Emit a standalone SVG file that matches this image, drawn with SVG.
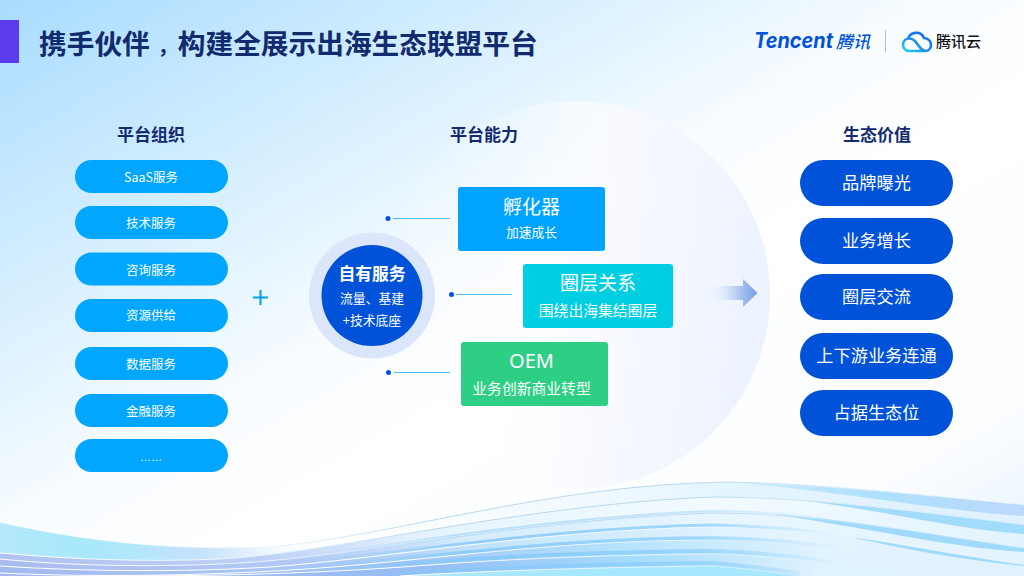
<svg xmlns="http://www.w3.org/2000/svg" xmlns:xlink="http://www.w3.org/1999/xlink" width="1024" height="576" viewBox="0 0 1024 576">
<style>
text{font-family:"Noto Sans CJK SC","Noto Sans",sans-serif;text-anchor:middle;fill:#fff}
.h{font-size:17px;font-weight:700;fill:#122a6e}
.l{font-size:12.5px}
.r{font-size:17.2px}
.big{font-size:19px}
.sub{font-size:14.8px}
.pl{fill:#00a6ff}
.pr{fill:#0052d9}
.dot{fill:#0052d9}
.ln{stroke:#4dbbff;stroke-width:1;fill:none}
.s{fill:none}
</style>
<defs>
<linearGradient id="bg" x1="0" y1="0" x2="1" y2="1">
<stop offset="0" stop-color="#a8dcff"/><stop offset=".25" stop-color="#d4eeff"/><stop offset=".46" stop-color="#f8fcff"/><stop offset=".58" stop-color="#fff"/><stop offset=".85" stop-color="#fbfdff"/><stop offset="1" stop-color="#e4f3ff"/>
</linearGradient>
<linearGradient id="ball" x1="0" y1="0" x2="1" y2="0.1">
<stop offset="0" stop-color="#fff" stop-opacity="0"/><stop offset=".35" stop-color="#fff" stop-opacity=".25"/><stop offset=".62" stop-color="#f8faff"/><stop offset="1" stop-color="#edf3fe"/>
</linearGradient>
<linearGradient id="arr" x1="710" y1="0" x2="758" y2="0" gradientUnits="userSpaceOnUse">
<stop offset="0" stop-color="#e6eefc" stop-opacity="0"/><stop offset=".65" stop-color="#a6c1ee"/><stop offset="1" stop-color="#6f9de4"/>
</linearGradient>
<linearGradient id="g1" gradientUnits="userSpaceOnUse" x1="0" y1="0" x2="1024" y2="0">
<stop offset="0" stop-color="#b6e9fa"/><stop offset=".08" stop-color="#a6e9fb"/><stop offset=".2" stop-color="#c6e2fb"/><stop offset=".27" stop-color="#f4faff"/><stop offset=".32" stop-color="#fff"/><stop offset=".55" stop-color="#f2faff"/><stop offset=".72" stop-color="#e4f4ff"/><stop offset="1" stop-color="#dff1ff"/>
</linearGradient>
<linearGradient id="g2" gradientUnits="userSpaceOnUse" x1="0" y1="0" x2="1024" y2="0">
<stop offset="0" stop-color="#b0c2f1"/><stop offset=".25" stop-color="#bccff6"/><stop offset=".42" stop-color="#e6f4ff"/><stop offset=".7" stop-color="#f2faff"/><stop offset="1" stop-color="#e2f3ff"/>
</linearGradient>
<linearGradient id="g3" gradientUnits="userSpaceOnUse" x1="0" y1="0" x2="1024" y2="0">
<stop offset="0" stop-color="#a9bcef"/><stop offset=".3" stop-color="#b2c9f5"/><stop offset=".46" stop-color="#d4ecfd"/><stop offset=".7" stop-color="#e8f6ff"/><stop offset="1" stop-color="#e4f4ff"/>
</linearGradient>
<linearGradient id="g4" gradientUnits="userSpaceOnUse" x1="0" y1="0" x2="1024" y2="0">
<stop offset="0" stop-color="#a5b9ee"/><stop offset=".33" stop-color="#a9c8f5"/><stop offset=".52" stop-color="#c8e9fd"/><stop offset=".75" stop-color="#e4f4ff"/><stop offset="1" stop-color="#e0f2ff"/>
</linearGradient>
<linearGradient id="g5" gradientUnits="userSpaceOnUse" x1="0" y1="0" x2="1024" y2="0">
<stop offset="0" stop-color="#a5b8ee"/><stop offset=".38" stop-color="#9fc3f6"/><stop offset=".6" stop-color="#b4e2fc"/><stop offset=".8" stop-color="#e0f3ff"/><stop offset="1" stop-color="#e0f3ff"/>
</linearGradient>
<linearGradient id="g6" gradientUnits="userSpaceOnUse" x1="0" y1="0" x2="1024" y2="0">
<stop offset="0" stop-color="#a3b6ee"/><stop offset=".42" stop-color="#98bdf6"/><stop offset=".62" stop-color="#a6dcfc"/><stop offset=".8" stop-color="#dff2ff"/>
</linearGradient>
<linearGradient id="blue" gradientUnits="userSpaceOnUse" x1="0" y1="0" x2="1024" y2="0">
<stop offset=".3" stop-color="#86c8fa" stop-opacity="0"/><stop offset=".46" stop-color="#86c8fa" stop-opacity=".85"/><stop offset=".68" stop-color="#8ed0fb" stop-opacity=".8"/><stop offset=".82" stop-color="#8ed0fb" stop-opacity="0"/>
</linearGradient>
<linearGradient id="edge" gradientUnits="userSpaceOnUse" x1="0" y1="0" x2="1024" y2="0">
<stop offset="0" stop-color="#fff"/><stop offset=".3" stop-color="#e4f1fb"/><stop offset=".42" stop-color="#b4d8f2"/><stop offset=".7" stop-color="#bcd8ee"/><stop offset=".85" stop-color="#cfe8fa" stop-opacity=".5"/>
</linearGradient>
<linearGradient id="wht" gradientUnits="userSpaceOnUse" x1="0" y1="0" x2="1024" y2="0">
<stop offset=".4" stop-color="#fff"/><stop offset=".65" stop-color="#fff" stop-opacity=".55"/><stop offset=".8" stop-color="#fff" stop-opacity="0"/>
</linearGradient>
<linearGradient id="b1" gradientUnits="userSpaceOnUse" x1="740" y1="0" x2="1024" y2="0">
<stop offset="0" stop-color="#c8ebfd"/><stop offset=".5" stop-color="#aee0fd"/><stop offset="1" stop-color="#bcd8fd"/>
</linearGradient>
<linearGradient id="cl" x1="1" y1="0" x2="0" y2="1">
<stop offset="0" stop-color="#0a62e6"/><stop offset=".55" stop-color="#1b8bf0"/><stop offset="1" stop-color="#25d5e6"/>
</linearGradient>
<path id="L1" d="M0 522C100 545 190 550 270 547C400 535 550 484 730 482C830 484 930 496 1024 505"/>
<path id="L2" d="M0 553C80 560 150 562 220 559C340 552 520 505 712 497C800 497 920 510 1024 525"/>
<path id="L3" d="M0 559C80 567 170 567 240 563C360 556 520 520 712 513C820 513 930 535 1024 548"/>
<path id="L4" d="M0 566C90 572 190 572 270 567C390 558 540 530 712 527C830 529 930 552 1024 565"/>
<path id="L5" d="M0 573C100 578 230 575 320 568C430 560 560 540 712 540C810 540 900 560 1000 576"/>
<path id="L6" d="M120 576C240 576 340 572 430 565C520 558 620 555 712 554C780 556 850 566 900 576"/>
<path id="L7" d="M400 576C500 570 620 567 712 566C740 568 770 572 800 576"/>
</defs>
<g id="background">
<rect width="1024" height="576" fill="url(#bg)"/>
<circle cx="576" cy="295" r="194" fill="url(#ball)"/>
<path fill="url(#g1)" d="M0 522C100 545 190 550 270 547C400 535 550 484 730 482C830 484 930 496 1024 505V576H0Z"/>
<path fill="url(#b1)" d="M740 483C830 485 930 496 1024 505V516C950 512 830 490 740 483Z"/>
<path fill="url(#g2)" d="M0 553C80 560 150 562 220 559C340 552 520 505 712 497C800 497 920 510 1024 525V576H0Z"/>
<path fill="#a2dcfd" d="M800 500C880 507 960 517 1024 525V534C960 530 880 510 800 500Z"/>
<path fill="url(#g3)" d="M0 559C80 567 170 567 240 563C360 556 520 520 712 513C820 513 930 535 1024 548V576H0Z"/>
<path fill="#9fdafd" d="M770 514C860 520 950 538 1024 548V552C950 548 860 526 770 514Z"/>
<path fill="url(#g4)" d="M0 566C90 572 190 572 270 567C390 558 540 530 712 527C830 529 930 552 1024 565V576H0Z"/>
<path fill="#9fdafd" d="M850 537C900 544 960 556 1024 565V566C960 560 900 548 850 537Z"/>
<path fill="url(#g5)" d="M0 573C100 578 230 575 320 568C430 560 560 540 712 540C810 540 900 560 1000 576H0Z"/>
<path fill="url(#g6)" d="M120 576C240 576 340 572 430 565C520 558 620 555 712 554C780 556 850 566 900 576Z"/>
<path fill="#a8e8fe" d="M400 576C500 570 620 567 712 566C740 568 770 572 800 576Z"/>
<use xlink:href="#L3" y="-2" class="s" stroke="url(#blue)" stroke-width="2" opacity=".6"/>
<use xlink:href="#L4" y="-2" class="s" stroke="url(#blue)" stroke-width="3"/>
<use xlink:href="#L5" y="-2" class="s" stroke="url(#blue)" stroke-width="3.500"/>
<use xlink:href="#L6" y="-3" class="s" stroke="url(#blue)" stroke-width="4"/>
<use xlink:href="#L7" y="-3" class="s" stroke="url(#blue)" stroke-width="4"/>
<use xlink:href="#L1" class="s" stroke="url(#edge)" stroke-width="1"/>
<use xlink:href="#L2" class="s" stroke="url(#edge)" stroke-width="1"/>
<use xlink:href="#L3" class="s" stroke="url(#edge)" stroke-width="1"/>
<use xlink:href="#L4" class="s" stroke="url(#wht)" stroke-width="1"/>
<use xlink:href="#L5" class="s" stroke="url(#wht)" stroke-width="1"/>
<use xlink:href="#L6" class="s" stroke="url(#wht)" stroke-width="1"/>
<use xlink:href="#L7" class="s" stroke="url(#wht)" stroke-width="1"/>
</g>
<g id="title-bar"><rect x="0" y="20" width="19" height="43" fill="#5b3bed"/></g>
<g id="title"><text x="39" y="54" style="font-size:27.700px;font-weight:700;fill:#122a6e;text-anchor:start">携手伙伴<tspan dx="8" style="font-size:20px">，</tspan><tspan>构建全展示出海生态联盟平台</tspan></text></g>
<g id="logo">
<text x="754" y="48" style="font-family:Inter,'Liberation Sans',sans-serif;font-size:21px;font-weight:700;font-style:italic;fill:#0052d9;text-anchor:start" textLength="79" lengthAdjust="spacingAndGlyphs">Tencent</text>
<text x="836" y="47.500" style="font-size:17px;font-weight:500;font-style:italic;fill:#0052d9;text-anchor:start">腾讯</text>
<line x1="885.500" y1="30" x2="885.500" y2="52" stroke="#9ec0e8"/>
<path fill="none" stroke="url(#cl)" stroke-width="2.600" d="M908 39A8.500 8.500 0 0 1 924 38C929 38.500 931 42 931 45C931 49 928 51 925 51H909C905.500 51 903 48 903 45C903 41 906 38.500 909.500 38.500C914 38.500 916 42 918 45C920 48 922 50 925 51"/>
<text x="936" y="47" style="font-size:15px;font-weight:500;fill:#111;text-anchor:start">腾讯云</text>
</g>
<text class="h" x="151" y="141">平台组织</text>
<text class="h" x="484" y="141">平台能力</text>
<text class="h" x="877" y="141">生态价值</text>
<g id="org-saas"><rect class="pl" x="75" y="160" width="153" height="33" rx="16.500"/><text class="l" x="151" y="182">SaaS服务</text></g>
<g id="org-tech"><rect class="pl" x="75" y="206" width="153" height="33" rx="16.500"/><text class="l" x="151" y="228">技术服务</text></g>
<g id="org-consult"><rect class="pl" x="75" y="252.500" width="153" height="33" rx="16.500"/><text class="l" x="151" y="274.500">咨询服务</text></g>
<g id="org-resource"><rect class="pl" x="75" y="299" width="153" height="33" rx="16.500"/><text class="l" x="151" y="320">资源供给</text></g>
<g id="org-data"><rect class="pl" x="75" y="347" width="153" height="33" rx="16.500"/><text class="l" x="151" y="369">数据服务</text></g>
<g id="org-finance"><rect class="pl" x="75" y="394" width="153" height="33" rx="16.500"/><text class="l" x="151" y="416">金融服务</text></g>
<g id="org-more"><rect class="pl" x="75" y="439" width="153" height="33" rx="16.500"/><text x="151" y="461" style="font-family:'Liberation Sans',sans-serif;font-size:11px">……</text></g>
<g id="plus"><path d="M253 297.500H268M260.500 290V305" stroke="#009fef" stroke-width="2" fill="none"/></g>
<g id="connectors">
<circle class="dot" cx="388" cy="218.500" r="2.500"/><line class="ln" x1="393" y1="218.500" x2="450" y2="218.500"/>
<circle class="dot" cx="451.500" cy="294.500" r="2.500"/><line class="ln" x1="456" y1="294.500" x2="512" y2="294.500"/>
<circle class="dot" cx="388.500" cy="372.500" r="2.500"/><line class="ln" x1="394" y1="372.500" x2="450" y2="372.500"/>
<path fill="url(#arr)" d="M710 286H743V279L757.500 293L743 307V300H710Z"/>
</g>
<g id="core"><circle cx="372" cy="295.500" r="63" fill="#dbe6fa"/><circle cx="372" cy="295.500" r="50.500" fill="#0052d9"/>
<text x="372" y="280" style="font-size:16.800px;font-weight:700">自有服务</text><text x="372" y="303" style="font-size:12.800px">流量、基建</text><text x="372" y="325" style="font-size:12.800px">+技术底座</text></g>
<g id="incubator"><rect x="458" y="187" width="147" height="64" rx="3" fill="#00a3ff"/><text class="big" x="531.500" y="214">孵化器</text><text x="531.500" y="237" style="font-size:12.800px">加速成长</text></g>
<g id="circle-rel"><rect x="523" y="264" width="150" height="64" rx="3" fill="#00cfe3"/><text class="big" x="598" y="290">圈层关系</text><text class="sub" x="598" y="316">围绕出海集结圈层</text></g>
<g id="oem"><rect x="461" y="342" width="147" height="64" rx="3" fill="#2dcf85"/><text x="531.500" y="368" style="font-size:20px;font-family:'Noto Sans',sans-serif">OEM</text><text class="sub" x="531.500" y="394">业务创新商业转型</text></g>
<g id="val-brand"><rect class="pr" x="800" y="160" width="153" height="46" rx="23"/><text class="r" x="876.500" y="189">品牌曝光</text></g>
<g id="val-growth"><rect class="pr" x="800" y="218" width="153" height="46" rx="23"/><text class="r" x="876.500" y="247">业务增长</text></g>
<g id="val-circle"><rect class="pr" x="800" y="274" width="153" height="46" rx="23"/><text class="r" x="876.500" y="303">圈层交流</text></g>
<g id="val-chain"><rect class="pr" x="800" y="333" width="153" height="46" rx="23"/><text class="r" x="876.500" y="362">上下游业务连通</text></g>
<g id="val-eco"><rect class="pr" x="800" y="390" width="153" height="46" rx="23"/><text class="r" x="876.500" y="419">占据生态位</text></g>
</svg>
